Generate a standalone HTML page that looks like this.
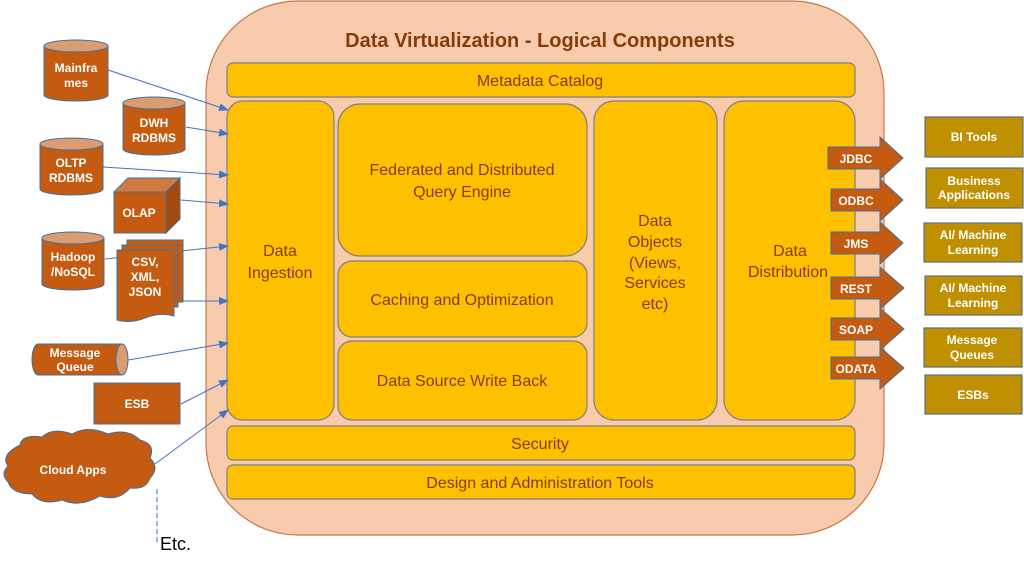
<!DOCTYPE html>
<html><head><meta charset="utf-8"><style>
html,body{margin:0;padding:0;background:#fff;}
svg{display:block;font-family:"Liberation Sans",Arial,sans-serif;}
.y{fill:#ffc000;stroke:#7f7f7f;stroke-width:1.2;}
.t{fill:#843c0c;font-size:16px;text-anchor:middle;}
.o{fill:#c55a11;stroke:#41719c;stroke-width:1;}
.ot{fill:#c55a11;stroke:#41719c;stroke-width:1;}
.top{fill:#dc9c71;stroke:#41719c;stroke-width:1;}
.w{fill:#fff;font-size:12px;font-weight:bold;text-anchor:middle;}
.g{fill:#bf9000;stroke:#5e6e7e;stroke-width:1.2;}
.ln{stroke:#4472c4;stroke-width:1;fill:none;marker-end:url(#ah);}
</style></head><body>
<svg width="1024" height="568" viewBox="0 0 1024 568">
<defs><marker id="ah" markerWidth="10" markerHeight="8" refX="9" refY="4" orient="auto" markerUnits="userSpaceOnUse"><path d="M0,0 L10,4 L0,8 z" fill="#4472c4"/></marker></defs>
<rect x="206" y="1" width="678" height="534" rx="92" ry="92" fill="#f8cbad" stroke="#c5784a" stroke-width="1.2"/>
<text x="540" y="47" fill="#843c0c" font-size="20" font-weight="bold" text-anchor="middle">Data Virtualization - Logical Components</text>
<rect class="y" x="227" y="63" width="628" height="34" rx="6"/>
<text class="t" x="540" y="86">Metadata Catalog</text>
<rect class="y" x="227" y="101" width="107" height="319" rx="16"/>
<text class="t" x="280" y="256">Data</text><text class="t" x="280" y="278">Ingestion</text>
<rect class="y" x="338" y="104" width="249" height="152" rx="22"/>
<text class="t" x="462" y="175">Federated and Distributed</text><text class="t" x="462" y="197">Query Engine</text>
<rect class="y" x="338" y="261" width="249" height="76" rx="14"/>
<text class="t" x="462" y="305">Caching and Optimization</text>
<rect class="y" x="338" y="341" width="249" height="79" rx="14"/>
<text class="t" x="462" y="386">Data Source Write Back</text>
<rect class="y" x="594" y="101" width="123" height="319" rx="20"/>
<text class="t" x="655" y="226">Data</text><text class="t" x="655" y="247">Objects</text><text class="t" x="655" y="268">(Views,</text><text class="t" x="655" y="288">Services</text><text class="t" x="655" y="309">etc)</text>
<rect class="y" x="724" y="101" width="131" height="319" rx="20"/>
<text class="t" x="790" y="256">Data</text><text class="t" x="788" y="277">Distribution</text>
<rect class="y" x="227" y="426" width="628" height="34" rx="6"/>
<text class="t" x="540" y="449">Security</text>
<rect class="y" x="227" y="465" width="628" height="34" rx="6"/>
<text class="t" x="540" y="488">Design and Administration Tools</text>

<g>
<path class="o" d="M828,147 H880 V137 L903,158 L880,179 V169 H828 Z"/><text class="w" x="856" y="163">JDBC</text>
<path class="o" d="M831,189 H880 V179 L903,200 L880,221 V211 H831 Z"/><text class="w" x="856" y="205">ODBC</text>
<path class="o" d="M831,232 H880 V222 L903,243 L880,264 V254 H831 Z"/><text class="w" x="856" y="248">JMS</text>
<path class="o" d="M831,277 H880 V267 L904,288 L880,309 V299 H831 Z"/><text class="w" x="856" y="293">REST</text>
<path class="o" d="M831,318 H880 V308 L904,329 L880,350 V340 H831 Z"/><text class="w" x="856" y="334">SOAP</text>
<path class="o" d="M831,357 H880 V347 L904,368 L880,389 V379 H831 Z"/><text class="w" x="856" y="373">ODATA</text>
</g>
<rect class="g" x="925" y="117" width="98" height="40"/><text class="w" x="974" y="141">BI Tools</text>
<rect class="g" x="926" y="168" width="97" height="40"/><text class="w" x="974" y="185">Business</text><text class="w" x="974" y="199">Applications</text>
<rect class="g" x="924" y="223" width="98" height="39"/><text class="w" x="973" y="239">AI/ Machine</text><text class="w" x="973" y="254">Learning</text>
<rect class="g" x="925" y="276" width="97" height="39"/><text class="w" x="973" y="292">AI/ Machine</text><text class="w" x="973" y="307">Learning</text>
<rect class="g" x="924" y="328" width="98" height="39"/><text class="w" x="972" y="344">Message</text><text class="w" x="972" y="359">Queues</text>
<rect class="g" x="925" y="375" width="97" height="39"/><text class="w" x="973" y="399">ESBs</text>

<line class="ln" x1="108" y1="70" x2="228" y2="110"/>
<line class="ln" x1="186" y1="127" x2="228" y2="134"/>
<line class="ln" x1="103" y1="167" x2="228" y2="175"/>
<line class="ln" x1="181" y1="200" x2="228" y2="204"/>
<line class="ln" x1="105" y1="259" x2="228" y2="246"/>
<line class="ln" x1="183" y1="301" x2="228" y2="301"/>
<line class="ln" x1="128" y1="360" x2="228" y2="343"/>
<line class="ln" x1="181" y1="404" x2="228" y2="380"/>
<line class="ln" x1="155" y1="464" x2="228" y2="410"/>

<g>
<path class="ot" d="M44,46 V95 A32,6 0 0 0 108,95 V46 Z"/><ellipse class="top" cx="76" cy="46" rx="32" ry="6"/>
<text class="w" x="76" y="72">Mainfra</text><text class="w" x="76" y="87">mes</text>
<path class="ot" d="M123,103 V149 A31,6 0 0 0 185,149 V103 Z"/><ellipse class="top" cx="154" cy="103" rx="31" ry="6"/>
<text class="w" x="154" y="127">DWH</text><text class="w" x="154" y="142">RDBMS</text>
<path class="ot" d="M40,144 V189 A31.5,6 0 0 0 103,189 V144 Z"/><ellipse class="top" cx="71.5" cy="144" rx="31.5" ry="6"/>
<text class="w" x="71" y="167">OLTP</text><text class="w" x="71" y="182">RDBMS</text>
<path class="ot" d="M42,238 V284 A31,6 0 0 0 104,284 V238 Z"/><ellipse class="top" cx="73" cy="238" rx="31" ry="6"/>
<text class="w" x="73" y="261">Hadoop</text><text class="w" x="73" y="276">/NoSQL</text>
</g>
<path fill="#d07a40" stroke="#41719c" d="M114,192 L128,178 L180,178 L166,192 Z"/>
<path fill="#a54a0e" stroke="#41719c" d="M166,192 L180,178 L180,219 L166,233 Z"/>
<rect class="o" x="114" y="192" width="52" height="41"/>
<text class="w" x="139" y="217">OLAP</text>
<rect class="o" x="127" y="240" width="56" height="62"/>
<rect class="o" x="122" y="245" width="56" height="62"/>
<path class="o" d="M117,250 H174 V316 Q160,312 145,318 Q130,324 117,320 Z"/>
<text class="w" x="145" y="266">CSV,</text><text class="w" x="145" y="281">XML,</text><text class="w" x="145" y="296">JSON</text>
<path class="ot" d="M38,344 H122 V375 H38 A6,15.5 0 0 1 38,344 Z"/>
<ellipse class="top" cx="122" cy="359.5" rx="6" ry="15.5"/>
<text class="w" x="75" y="357">Message</text><text class="w" x="75" y="371">Queue</text>
<rect class="o" x="94" y="383" width="86" height="41"/>
<text class="w" x="137" y="408">ESB</text>
<path class="o" d="M20,445 Q22,434 42,437 Q52,427 72,434 Q88,425 108,434 Q128,428 140,440 Q156,444 150,458 Q160,468 150,478 Q146,490 130,488 Q118,502 100,496 Q80,508 62,500 Q42,506 32,494 Q12,494 8,482 Q0,474 8,466 Q0,455 20,445 Z"/>
<text class="w" x="73" y="474">Cloud Apps</text>
<line x1="157" y1="489" x2="157" y2="545" stroke="#4472c4" stroke-width="1" stroke-dasharray="5,3"/>
<text x="160" y="550" font-size="18" fill="#000">Etc.</text>
</svg>
</body></html>
